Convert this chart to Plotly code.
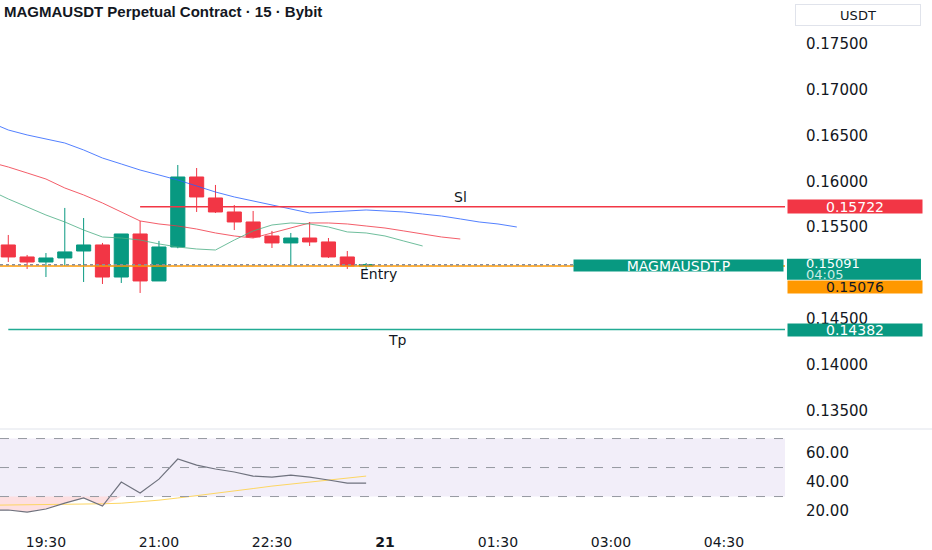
import plotly.graph_objects as go

# 15 minute candles, 20 May 19:00 -> 23:45
candle_time = [
    "2025-05-20 19:00", "2025-05-20 19:15", "2025-05-20 19:30", "2025-05-20 19:45",
    "2025-05-20 20:00", "2025-05-20 20:15", "2025-05-20 20:30", "2025-05-20 20:45",
    "2025-05-20 21:00", "2025-05-20 21:15", "2025-05-20 21:30", "2025-05-20 21:45",
    "2025-05-20 22:00", "2025-05-20 22:15", "2025-05-20 22:30", "2025-05-20 22:45",
    "2025-05-20 23:00", "2025-05-20 23:15", "2025-05-20 23:30", "2025-05-20 23:45",
]
open_ = [0.15306, 0.15175, 0.15120, 0.15164, 0.15240, 0.15306, 0.14956, 0.15426, 0.14913, 0.15284,
         0.16048, 0.15819, 0.15666, 0.15557, 0.15404, 0.15328, 0.15382, 0.15339, 0.15175, 0.15076]
high = [0.15415, 0.15197, 0.15218, 0.15710, 0.15600, 0.15328, 0.15426, 0.15568, 0.15350, 0.16179,
        0.16146, 0.15961, 0.15742, 0.15677, 0.15459, 0.15437, 0.15557, 0.15382, 0.15240, 0.15109]
low = [0.15120, 0.15044, 0.14956, 0.15076, 0.14902, 0.14880, 0.14891, 0.14782, 0.14913, 0.15270,
       0.15666, 0.15655, 0.15469, 0.15382, 0.15273, 0.15076, 0.15295, 0.15164, 0.15044, 0.15033]
close = [0.15175, 0.15120, 0.15164, 0.15230, 0.15306, 0.14956, 0.15426, 0.14913, 0.15284, 0.16048,
         0.15830, 0.15666, 0.15557, 0.15393, 0.15328, 0.15382, 0.15339, 0.15175, 0.15076, 0.15091]

# moving averages (shown shifted forward), starting 18:45
ma_time = [
    "2025-05-20 18:45", "2025-05-20 19:00", "2025-05-20 19:15", "2025-05-20 19:30",
    "2025-05-20 19:45", "2025-05-20 20:00", "2025-05-20 20:15", "2025-05-20 20:30",
    "2025-05-20 20:45", "2025-05-20 21:00", "2025-05-20 21:15", "2025-05-20 21:30",
    "2025-05-20 21:45", "2025-05-20 22:00", "2025-05-20 22:15", "2025-05-20 22:30",
    "2025-05-20 22:45", "2025-05-20 23:00", "2025-05-20 23:15", "2025-05-20 23:30",
    "2025-05-20 23:45", "2025-05-21 00:00", "2025-05-21 00:15", "2025-05-21 00:30",
    "2025-05-21 00:45", "2025-05-21 01:00", "2025-05-21 01:15", "2025-05-21 01:30",
    "2025-05-21 01:45",
]
ma_blue = [0.16648, 0.16561, 0.16507, 0.16463, 0.16419, 0.16343, 0.16255, 0.16190, 0.16124, 0.16070,
           0.16015, 0.15950, 0.15884, 0.15830, 0.15786, 0.15742, 0.15699, 0.15655, 0.15666, 0.15677,
           0.15688, 0.15677, 0.15666, 0.15644, 0.15622, 0.15590, 0.15557, 0.15535, 0.15502]
ma_red = [0.16212, 0.16157, 0.16092, 0.16026, 0.15928, 0.15852, 0.15764, 0.15666, 0.15568, 0.15535,
          0.15513, 0.15480, 0.15437, 0.15404, 0.15382, 0.15437, 0.15491, 0.15546, 0.15546, 0.15535,
          0.15513, 0.15491, 0.15459, 0.15426, 0.15393, 0.15371]
ma_green = [0.15906, 0.15808, 0.15721, 0.15633, 0.15557, 0.15469, 0.15393, 0.15382, 0.15360, 0.15317,
            0.15284, 0.15262, 0.15251, 0.15360, 0.15459, 0.15524, 0.15546, 0.15535, 0.15502, 0.15448,
            0.15437, 0.15404, 0.15349, 0.15295]

# RSI pane, 18:45 -> 23:45
rsi = [20.5, 20.7, 19.3, 21.4, 25.5, 29.0, 23.4, 40.0, 32.4, 42.0, 55.9,
       51.7, 49.0, 46.9, 44.1, 43.4, 44.8, 43.4, 41.4, 39.3, 39.3]
rsi_ma = [24.0, 24.1, 24.3, 24.5, 24.7, 24.8, 25.0, 25.4, 26.2, 27.5, 29.0,
          30.5, 32.2, 33.8, 35.5, 37.2, 38.6, 40.0, 41.4, 42.8, 44.1]

sl_price = 0.15722
entry_price = 0.15076
tp_price = 0.14382
last_price = 0.15091
countdown = "04:05"

price_ticks = [0.135, 0.140, 0.145, 0.150, 0.155, 0.160, 0.165, 0.170, 0.175]
rsi_ticks = [20, 40, 60]
time_ticks = ["2025-05-20 19:30", "2025-05-20 21:00", "2025-05-20 22:30", "2025-05-21 00:00",
              "2025-05-21 01:30", "2025-05-21 03:00", "2025-05-21 04:30"]
time_labels = ["19:30", "21:00", "22:30", "<b>21</b>", "01:30", "03:00", "04:30"]

x_range = ["2025-05-20 18:53:24", "2025-05-21 05:18:36"]
price_range = [0.13308, 0.1798]

UP = "#089981"
DOWN = "#F23645"
TEXT = "#131722"
FONT = "DejaVu Sans"

HEIGHT, MARGIN_T, MARGIN_B = 550, 0, 22
price_domain = [0.1894, 1]
# price units per screen pixel, for the two-row last price tag
px = (price_range[1] - price_range[0]) / ((HEIGHT - MARGIN_T - MARGIN_B) * (price_domain[1] - price_domain[0]))

fig = go.Figure()

fig.add_trace(go.Scatter(x=ma_time[:len(ma_blue)], y=ma_blue, mode="lines",
                         line=dict(color="#2962FF", width=1), opacity=0.8))
fig.add_trace(go.Scatter(x=ma_time[:len(ma_red)], y=ma_red, mode="lines",
                         line=dict(color="#F23645", width=1), opacity=0.8))
fig.add_trace(go.Scatter(x=ma_time[:len(ma_green)], y=ma_green, mode="lines",
                         line=dict(color="#4CAF85", width=1), opacity=0.8))

# position lines
fig.add_trace(go.Scatter(x=[x_range[0], x_range[1]], y=[entry_price, entry_price], mode="lines",
                         line=dict(color="#FF9800", width=1.5)))
fig.add_trace(go.Scatter(x=[x_range[0], x_range[1]], y=[last_price, last_price], mode="lines",
                         line=dict(color="#8a8f9c", width=1.5, dash="dot")))
fig.add_trace(go.Scatter(x=["2025-05-20 20:45", x_range[1]], y=[sl_price, sl_price], mode="lines",
                         line=dict(color="#F23645", width=1.5)))
fig.add_trace(go.Scatter(x=["2025-05-20 19:00", x_range[1]], y=[tp_price, tp_price], mode="lines",
                         line=dict(color="#22AB94", width=1.5)))

fig.add_trace(go.Candlestick(
    x=candle_time, open=open_, high=high, low=low, close=close,
    increasing=dict(line=dict(color=UP, width=1), fillcolor=UP),
    decreasing=dict(line=dict(color=DOWN, width=1), fillcolor=DOWN),
    whiskerwidth=0,
))

# RSI pane
rsi_time = ma_time[:len(rsi)]
fig.add_trace(go.Scatter(x=rsi_time, y=[30] * len(rsi), mode="lines", line=dict(width=0),
                         xaxis="x2", yaxis="y2"))
fig.add_trace(go.Scatter(x=rsi_time, y=[min(v, 30) for v in rsi], mode="lines", line=dict(width=0),
                         fill="tonexty", fillcolor="rgba(242,54,69,0.16)", xaxis="x2", yaxis="y2"))
fig.add_trace(go.Scatter(x=rsi_time, y=rsi_ma, mode="lines", line=dict(color="#FDD663", width=1),
                         xaxis="x2", yaxis="y2"))
fig.add_trace(go.Scatter(x=rsi_time, y=rsi, mode="lines", line=dict(color="#6F727E", width=1.2),
                         xaxis="x2", yaxis="y2"))

shapes = [
    dict(type="rect", xref="x2 domain", yref="y2", x0=0, x1=1, y0=30, y1=70,
         fillcolor="rgba(126,87,194,0.1)", line=dict(width=0), layer="below"),
    dict(type="line", xref="paper", yref="paper", x0=0, x1=1.19, y0=0.1875, y1=0.1875,
         line=dict(color="#E0E3EB", width=1)),
    # background of the last price + countdown tag
    dict(type="rect", xref="paper", yref="y", x0=1.0025, x1=1.1732,
         y0=last_price - 15 * px, y1=last_price + 6 * px,
         fillcolor=UP, line=dict(width=0), layer="above"),
]
for lvl in [30, 50, 70]:
    shapes.append(dict(type="line", xref="x2 domain", yref="y2", x0=0, x1=1, y0=lvl, y1=lvl,
                       line=dict(color="#9598A1", width=1, dash="dash")))

tag = dict(xref="paper", yref="y", showarrow=False, font=dict(family=FONT, size=14, color="white"),
           borderpad=0)
annotations = [
    dict(text="<b>MAGMAUSDT Perpetual Contract · 15 · Bybit</b>", xref="paper", yref="paper",
         x=0.003, y=0.998, xanchor="left", yanchor="top", showarrow=False,
         font=dict(family="Liberation Sans", size=15, color=TEXT)),
    dict(text="USDT", xref="paper", yref="paper", x=1.0125, y=0.993, xanchor="left", yanchor="top",
         showarrow=False, width=122, height=18, bgcolor="white", bordercolor="#E0E3EB", borderwidth=1,
         font=dict(family=FONT, size=13, color=TEXT)),
    dict(tag, text=f"{sl_price:.5f}", x=1, y=sl_price, xanchor="left", xshift=2, width=134,
         height=13, bgcolor=DOWN),
    dict(tag, text=f"{entry_price:.5f}", x=1, y=entry_price, xanchor="left", yanchor="top",
         yshift=-14, xshift=2, width=134, height=12, bgcolor="#FF9800",
         font=dict(family=FONT, size=14, color=TEXT)),
    dict(tag, text=f"{last_price:.5f}", x=1, y=last_price, xanchor="left", yanchor="middle",
         yshift=1.5, xshift=20, font=dict(family=FONT, size=13, color="white")),
    dict(tag, text=countdown, x=1, y=last_price, xanchor="left", yanchor="middle", yshift=-9.5,
         xshift=20, font=dict(family=FONT, size=13, color="#CDEDE6")),
    dict(tag, text=f"{tp_price:.5f}", x=1, y=tp_price, xanchor="left", xshift=2, width=134,
         height=12, bgcolor=UP),
    dict(tag, text="MAGMAUSDT.P", x=1, y=last_price, xanchor="right", yanchor="top", yshift=6,
         xshift=-1, width=209, height=11, bgcolor=UP),
    dict(text="Sl", x="2025-05-21 01:00", y=sl_price, xref="x", yref="y", showarrow=False,
         yanchor="bottom", yshift=0, font=dict(family=FONT, size=14, color=TEXT)),
    dict(text="Entry", x="2025-05-20 23:55", y=entry_price, xref="x", yref="y", showarrow=False,
         yanchor="top", yshift=2, font=dict(family=FONT, size=14, color=TEXT)),
    dict(text="Tp", x="2025-05-21 00:10", y=tp_price, xref="x", yref="y", showarrow=False,
         yanchor="top", yshift=0, font=dict(family=FONT, size=14, color=TEXT)),
]

fig.update_layout(
    width=932, height=HEIGHT,
    margin=dict(l=0, r=147, t=MARGIN_T, b=MARGIN_B),
    paper_bgcolor="white", plot_bgcolor="white",
    showlegend=False,
    boxgap=0.25, boxgroupgap=0,
    font=dict(family=FONT, size=13, color=TEXT),
    xaxis=dict(range=x_range, domain=[0, 1], anchor="y", showticklabels=False, showgrid=False,
               zeroline=False, rangeslider=dict(visible=False), matches="x2"),
    yaxis=dict(domain=price_domain, range=price_range, side="right", tickvals=price_ticks,
               tickformat=".5f", showgrid=False, zeroline=False, ticks="", ticklabelstandoff=20,
               tickfont=dict(family=FONT, size=15, color=TEXT)),
    xaxis2=dict(range=x_range, domain=[0, 1], anchor="y2", tickvals=time_ticks, ticktext=time_labels,
                showgrid=False, zeroline=False, ticks="", ticklabelstandoff=4,
                tickfont=dict(family=FONT, size=14, color=TEXT)),
    yaxis2=dict(domain=[0, 0.1818], range=[8.3, 74.5], side="right", anchor="x2", tickvals=rsi_ticks,
                ticktext=[f"{v:.2f}" for v in rsi_ticks], showgrid=False, zeroline=False, ticks="",
                ticklabelstandoff=20, tickfont=dict(family=FONT, size=15, color=TEXT)),
    shapes=shapes,
    annotations=annotations,
)

# page body margin would push the 932x550 figure off the window
fig.write_html("out.html", config={"displayModeBar": False},
               post_script="document.body.style.margin='0';")
